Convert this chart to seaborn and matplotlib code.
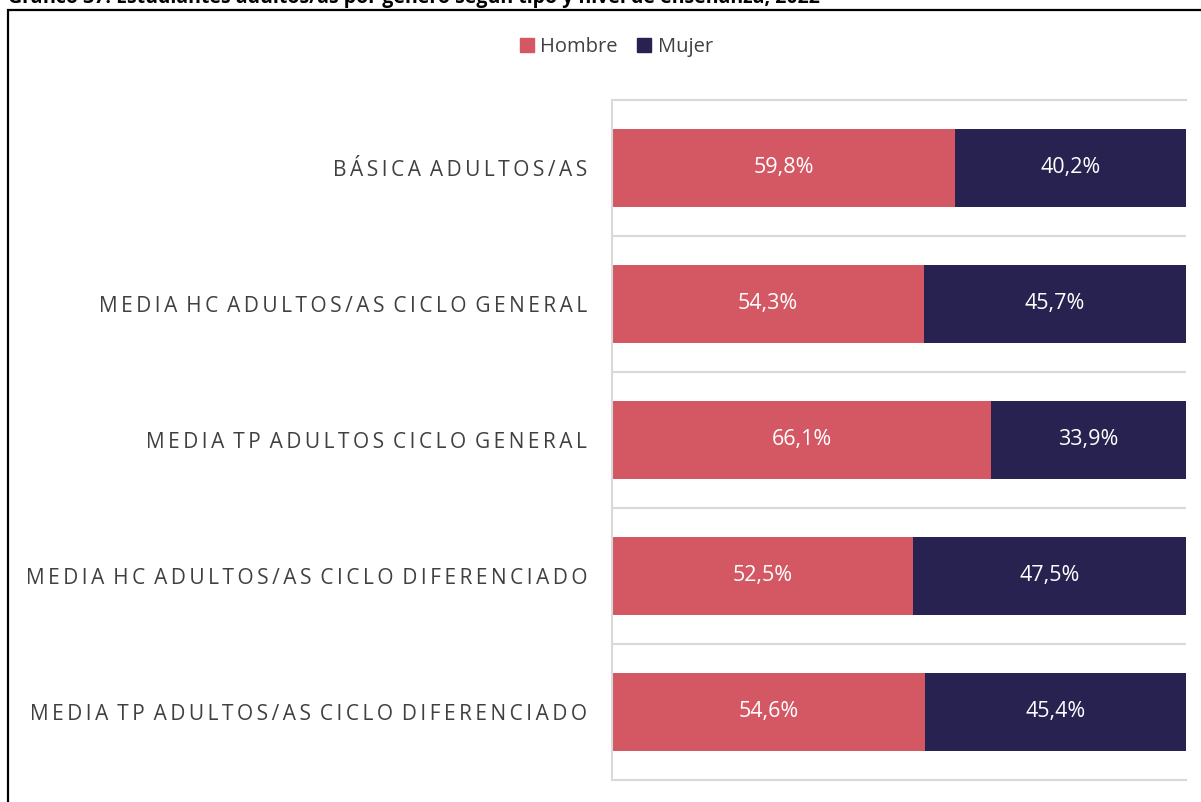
import matplotlib
matplotlib.use("Agg")
import matplotlib.pyplot as plt
import matplotlib.patches as mpatches
import pandas as pd
import seaborn as sns

# Data
categorias = [
    "BÁSICA ADULTOS/AS",
    "MEDIA HC ADULTOS/AS CICLO GENERAL",
    "MEDIA TP ADULTOS CICLO GENERAL",
    "MEDIA HC ADULTOS/AS CICLO DIFERENCIADO",
    "MEDIA TP ADULTOS/AS CICLO DIFERENCIADO",
]
hombre = [59.8, 54.3, 66.1, 52.5, 54.6]
mujer = [40.2, 45.7, 33.9, 47.5, 45.4]
series = ["Hombre", "Mujer"]
titulo = "Gráfico 37: Estudiantes adultos/as por género según tipo y nivel de enseñanza, 2022"

COL_H = "#D45863"
COL_M = "#282251"
TXT = "#404040"
GRID = "#D9D9D9"

sns.set_theme(style="white")
plt.rcParams["font.family"] = ["Open Sans", "DejaVu Sans"]

df = pd.DataFrame({"cat": categorias, "Hombre": hombre, "Mujer": mujer})
df["total"] = df["Hombre"] + df["Mujer"]


def espaciado(s):
    # wide letter spacing for the category captions
    thin = "\u2009"
    out = []
    for w in s.split(" "):
        out.append(thin.join(w))
    return (" " + thin).join(out)


fig = plt.figure(figsize=(12.01, 8.02), dpi=100)
ax = fig.add_axes([612 / 1201, 1 - 780 / 802, (1186 - 612) / 1201, 680 / 802])

sns.barplot(data=df, x="total", y="cat", orient="h", color=COL_M, saturation=1,
            width=0.57, linewidth=0, ax=ax)
sns.barplot(data=df, x="Hombre", y="cat", orient="h", color=COL_H, saturation=1,
            width=0.57, linewidth=0, ax=ax)

ax.set_xlim(0, 100)
ax.set_ylim(len(categorias) - 0.5, -0.5)
ax.set_xlabel("")
ax.set_ylabel("")
ax.set_xticks([])

ax.set_yticks(range(len(categorias)))
ax.set_yticklabels([espaciado(c) for c in categorias], fontsize=15, color=TXT)
ax.tick_params(axis="y", length=0, pad=18)
ax.set_yticks([i + 0.5 for i in range(len(categorias) - 1)], minor=True)
ax.tick_params(axis="y", which="minor", length=0)
ax.grid(False)
ax.grid(which="minor", axis="y", color=GRID, linewidth=1.5)
ax.set_axisbelow(True)

for side in ["top", "bottom", "left"]:
    ax.spines[side].set_visible(True)
    ax.spines[side].set_color(GRID)
    ax.spines[side].set_linewidth(1.5)
ax.spines["right"].set_visible(False)

for i, (h, m) in enumerate(zip(hombre, mujer)):
    ax.text(h / 2, i, f"{h:.1f}%".replace(".", ","), ha="center", va="center",
            color="white", fontsize=15.5)
    ax.text(h + m / 2, i, f"{m:.1f}%".replace(".", ","), ha="center", va="center",
            color="white", fontsize=15.5)

handles = [mpatches.Patch(color=COL_H, label=series[0]),
           mpatches.Patch(color=COL_M, label=series[1])]
leg = fig.legend(handles=handles, loc="center", bbox_to_anchor=(0.513, 1 - 47 / 802),
                 ncol=2, frameon=False, fontsize=14.5, handlelength=0.7,
                 handleheight=0.7, handletextpad=0.3, columnspacing=1.0)
for t in leg.get_texts():
    t.set_color(TXT)

# Outer frame and title
frame = mpatches.Rectangle((8 / 1201, -0.05), 1.2, 1 - 10 / 802 + 0.05,
                           transform=fig.transFigure, fill=False,
                           edgecolor="black", linewidth=1.6, clip_on=False)
fig.patches.append(frame)
fig.text(8 / 1201, 1 - 3 / 802, titulo, ha="left", va="baseline",
         fontsize=14, fontweight="bold", color="black")

fig.savefig("out.png", dpi=100)
